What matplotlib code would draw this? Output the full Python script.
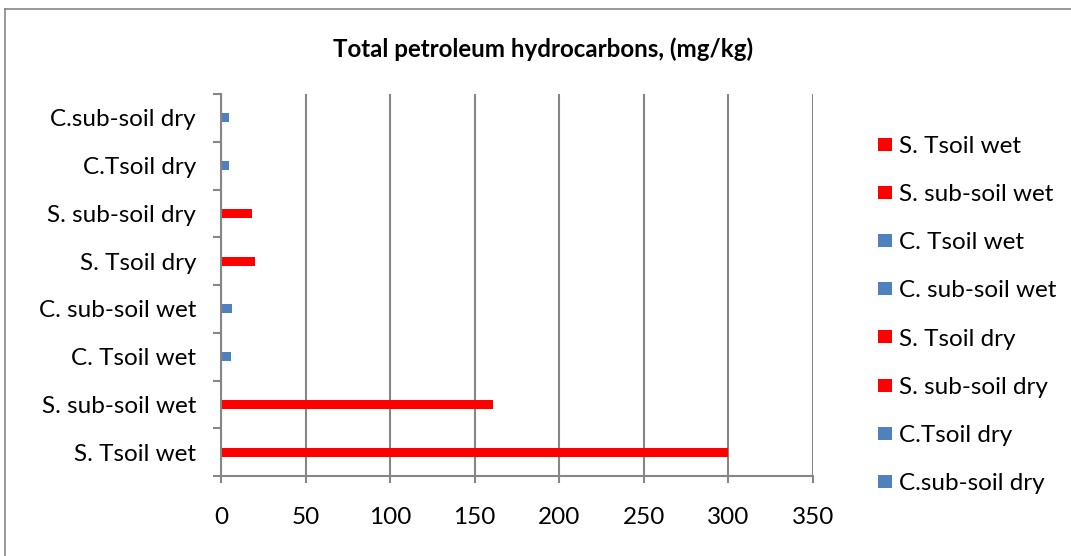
import matplotlib
matplotlib.use("Agg")
import matplotlib.pyplot as plt
from matplotlib.lines import Line2D
import numpy as np

plt.rcParams['font.family'] = ['Lato', 'DejaVu Sans']

categories = ["S. Tsoil wet", "S. sub-soil wet", "C. Tsoil wet", "C. sub-soil wet",
              "S. Tsoil dry", "S. sub-soil dry", "C.Tsoil dry", "C.sub-soil dry"]
values = [300, 161, 6, 6.5, 20, 18.5, 5, 4.5]
series_colors = ["#FF0000", "#FF0000", "#4F81BD", "#4F81BD",
                 "#FF0000", "#FF0000", "#4F81BD", "#4F81BD"]
x_ticks = [0, 50, 100, 150, 200, 250, 300, 350]
title = "Total petroleum hydrocarbons, (mg/kg)"

W, H = 1071, 556
fig = plt.figure(figsize=(W / 100, H / 100), dpi=100)
fig.patch.set_facecolor("white")

ax = fig.add_axes([221 / W, 1 - 476 / H, (813 - 221) / W, (476 - 94) / H])
grid_c = "#868686"
fs = 17.5

y = np.arange(len(categories))
handles = []
for i, (cat, v, c) in enumerate(zip(categories, values, series_colors)):
    h = ax.barh(y[i], v, height=0.19, color=c, label=cat, zorder=3)
    handles.append(h)

ax.set_xlim(0, 350)
ax.set_ylim(-0.5, len(categories) - 0.5)
ax.set_xticks(x_ticks)
ax.set_xticklabels([str(t) for t in x_ticks], fontsize=fs)
ax.set_yticks(y)
ax.set_yticklabels(categories, fontsize=fs)
ax.set_yticks(np.arange(len(categories) + 1) - 0.5, minor=True)
ax.tick_params(axis='y', which='major', length=0, pad=18)
ax.tick_params(axis='y', which='minor', length=6, width=1.5, color=grid_c, direction='out')
ax.tick_params(axis='x', which='major', length=5, width=1.5, color=grid_c, direction='out', pad=17)

ax.grid(axis='x', color=grid_c, linewidth=1.5, zorder=0)
ax.set_axisbelow(True)
for s in ['top', 'right']:
    ax.spines[s].set_visible(False)
for s in ['left', 'bottom']:
    ax.spines[s].set_color(grid_c)
    ax.spines[s].set_linewidth(1.5)
    ax.spines[s].set_zorder(4)

fig.text(543.5 / W, 1 - 49 / H, title, ha='center', va='center',
         fontsize=17.4, fontweight='bold')

leg = fig.legend(handles=handles, labels=categories, loc='upper left',
                 bbox_to_anchor=(868 / W, 1 - 126 / H), frameon=False,
                 fontsize=fs, handlelength=0.58, handleheight=0.45,
                 handletextpad=0.3, labelspacing=1.12, borderaxespad=0)

# chart area border (top and left edges visible)
fig.add_artist(Line2D([5 / W, 5 / W], [0, 1 - 9 / H], transform=fig.transFigure,
                      color=grid_c, linewidth=1.2))
fig.add_artist(Line2D([5 / W, 1], [1 - 9 / H, 1 - 9 / H], transform=fig.transFigure,
                      color=grid_c, linewidth=1.2))

fig.savefig("out.png", dpi=100)
